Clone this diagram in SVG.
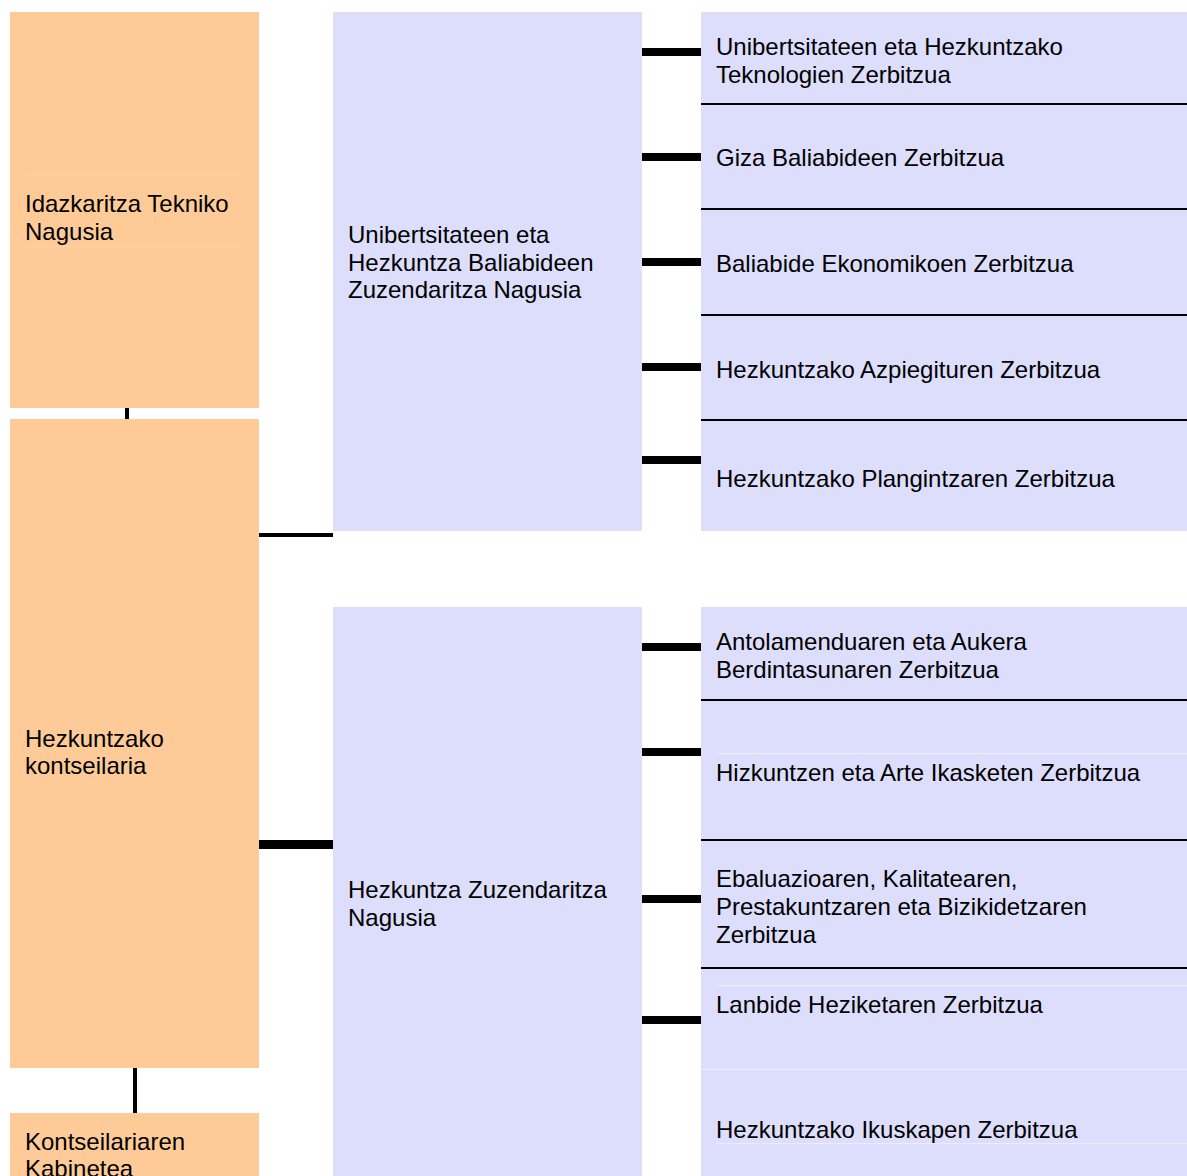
<svg xmlns="http://www.w3.org/2000/svg" width="1187" height="1176" viewBox="0 0 1187 1176">
<style>
.o{fill:#FECB98}
.b{fill:#DDDDFC}
.t{font-family:"Liberation Sans",Arial,sans-serif;font-size:24px;fill:#000}
.div{stroke:#000;stroke-width:2}
.f{stroke:#ECECFD;stroke-width:1}
.fo{stroke:#FED4AA;stroke-width:1}
</style>
<rect width="1187" height="1176" fill="#fff"/>
<g id="connectors" fill="#000">
<rect x="125" y="407" width="4" height="13"/>
<rect x="133" y="1068" width="4" height="45"/>
<rect x="259" y="533" width="74" height="4"/>
<rect x="259" y="840" width="74" height="9"/>
<rect x="642" y="48" width="59" height="8"/>
<rect x="642" y="153" width="59" height="8"/>
<rect x="642" y="258" width="59" height="8"/>
<rect x="642" y="363" width="59" height="8"/>
<rect x="642" y="456" width="59" height="8"/>
<rect x="642" y="643" width="59" height="8"/>
<rect x="642" y="748" width="59" height="8"/>
<rect x="642" y="895" width="59" height="8"/>
<rect x="642" y="1016" width="59" height="8"/>
</g>
<g id="idazkaritza">
<rect class="o" x="10" y="12" width="249" height="396"/>
<line class="fo" x1="25" y1="174.5" x2="245" y2="174.5"/>
<line class="fo" x1="25" y1="246.5" x2="245" y2="246.5"/>
<text class="t" x="25" y="212">Idazkaritza Tekniko</text>
<text class="t" x="25" y="240">Nagusia</text>
</g>
<g id="kontseilaria">
<rect class="o" x="10" y="419" width="249" height="649"/>
<text class="t" x="25" y="747">Hezkuntzako</text>
<text class="t" x="25" y="774">kontseilaria</text>
</g>
<g id="kabinetea">
<rect class="o" x="10" y="1113" width="249" height="63"/>
<text class="t" x="25" y="1150">Kontseilariaren</text>
<text class="t" x="25" y="1177">Kabinetea</text>
</g>
<g id="zuzendaritza1">
<rect class="b" x="333" y="12" width="309" height="519"/>
<text class="t" x="348" y="243">Unibertsitateen eta</text>
<text class="t" x="348" y="271">Hezkuntza Baliabideen</text>
<text class="t" x="348" y="298">Zuzendaritza Nagusia</text>
</g>
<g id="zuzendaritza2">
<rect class="b" x="333" y="607" width="309" height="569"/>
<text class="t" x="348" y="898">Hezkuntza Zuzendaritza</text>
<text class="t" x="348" y="926">Nagusia</text>
</g>
<g id="zerbitzuak1">
<rect class="b" x="701" y="12" width="486" height="519"/>
<line class="div" x1="701" y1="104" x2="1187" y2="104"/>
<line class="div" x1="701" y1="209" x2="1187" y2="209"/>
<line class="div" x1="701" y1="315" x2="1187" y2="315"/>
<line class="div" x1="701" y1="420" x2="1187" y2="420"/>
<text class="t" x="716" y="55">Unibertsitateen eta Hezkuntzako</text>
<text class="t" x="716" y="83">Teknologien Zerbitzua</text>
<text class="t" x="716" y="166">Giza Baliabideen Zerbitzua</text>
<text class="t" x="716" y="272">Baliabide Ekonomikoen Zerbitzua</text>
<text class="t" x="716" y="378">Hezkuntzako Azpiegituren Zerbitzua</text>
<text class="t" x="716" y="487">Hezkuntzako Plangintzaren Zerbitzua</text>
</g>
<g id="zerbitzuak2">
<rect class="b" x="701" y="607" width="486" height="569"/>
<line class="f" x1="716" y1="753.5" x2="1187" y2="753.5"/>
<line class="f" x1="716" y1="985.5" x2="1187" y2="985.5"/>
<line class="f" x1="701" y1="1069.5" x2="1187" y2="1069.5"/>
<line class="f" x1="716" y1="1143.5" x2="1187" y2="1143.5"/>
<line class="div" x1="701" y1="700" x2="1187" y2="700"/>
<line class="div" x1="701" y1="840" x2="1187" y2="840"/>
<line class="div" x1="701" y1="968" x2="1187" y2="968"/>
<text class="t" x="716" y="650">Antolamenduaren eta Aukera</text>
<text class="t" x="716" y="678">Berdintasunaren Zerbitzua</text>
<text class="t" x="716" y="781">Hizkuntzen eta Arte Ikasketen Zerbitzua</text>
<text class="t" x="716" y="887">Ebaluazioaren, Kalitatearen,</text>
<text class="t" x="716" y="915">Prestakuntzaren eta Bizikidetzaren</text>
<text class="t" x="716" y="943">Zerbitzua</text>
<text class="t" x="716" y="1013">Lanbide Heziketaren Zerbitzua</text>
<text class="t" x="716" y="1138">Hezkuntzako Ikuskapen Zerbitzua</text>
</g>
</svg>
